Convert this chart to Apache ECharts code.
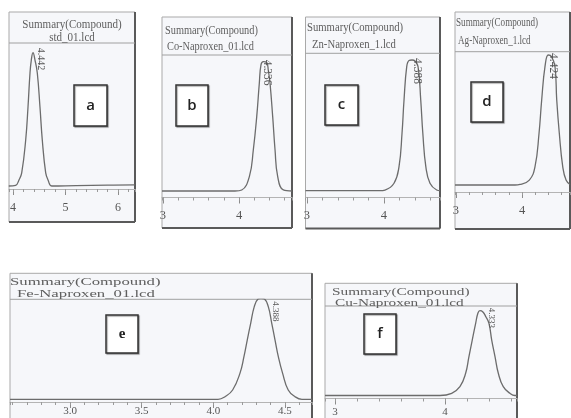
<!DOCTYPE html>
<html><head><meta charset="utf-8">
<script src="https://cdn.jsdelivr.net/npm/echarts@6/dist/echarts.min.js"></script>
<style>html,body{margin:0;padding:0;background:#fff}#c{width:571px;height:418px}</style>
</head><body><div id="c"></div>
<script>
// ---------------- DATA ----------------
const panelLetters = ['a', 'b', 'c', 'd', 'e', 'f'];
const headerTitle = 'Summary(Compound)';
const fileNames = ['std_01.lcd', 'Co-Naproxen_01.lcd', 'Zn-Naproxen_1.lcd', 'Ag-Naproxen_1.lcd', 'Fe-Naproxen_01.lcd', 'Cu-Naproxen_01.lcd'];
const peakLabels = ['4.442', '4.336', '4.388', '4.424', '4.388', '4.333'];

// retention time (min) and detector signal (normalised to apex = 100)
const timeA = [3.92, 4.05, 4.114, 4.166, 4.242, 4.286, 4.324, 4.349, 4.381, 4.419, 4.463, 4.514, 4.558, 4.623, 4.667, 4.743, 5.2, 5.8, 6.32];
const signalA = [0, 0.5, 4.5, 9.8, 34.5, 59.3, 84.8, 94.5, 100, 94.5, 84.8, 59.3, 34.5, 9.8, 4.5, 0, 0.3, 0.6, 0.8];

const timeB = [2.987, 3.947, 4.036, 4.136, 4.188, 4.233, 4.267, 4.289, 4.320, 4.364, 4.386, 4.408, 4.443, 4.474, 4.509, 4.583, 4.697];
const signalB = [0, 0, 0.8, 11.1, 31.7, 57.5, 83.3, 97.5, 100, 99.4, 93, 83.3, 57.5, 31.7, 11.1, 0.8, 0];

const timeC = [2.981, 3.948, 4.013, 4.130, 4.195, 4.234, 4.260, 4.295, 4.325, 4.364, 4.403, 4.442, 4.477, 4.504, 4.543, 4.597, 4.684, 4.727];
const signalC = [0, 0, 0.5, 5.7, 18.4, 43.9, 69.4, 94.9, 99.6, 100, 99.2, 94.9, 69.4, 43.9, 18.4, 5.7, 0.5, 0];

const timeD = [2.985, 3.894, 3.970, 4.111, 4.197, 4.258, 4.298, 4.348, 4.398, 4.447, 4.500, 4.526, 4.565, 4.617, 4.667, 4.727];
const signalD = [0, 0, 0.4, 3.8, 14.1, 39.8, 65.4, 91, 100, 98.8, 91, 65.4, 39.8, 14.1, 3.8, 0.4];

const timeE = [2.581, 4.033, 4.082, 4.135, 4.186, 4.214, 4.237, 4.261, 4.286, 4.312, 4.333, 4.357, 4.384, 4.408, 4.431, 4.454, 4.484, 4.523, 4.570, 4.619, 4.689];
const signalE = [0, 0, 2.6, 9.2, 25.7, 42.2, 58.7, 75.2, 91.7, 99.3, 100, 99.3, 91.7, 75.2, 58.7, 42.2, 25.7, 9.2, 2.6, 0, 0];

const timeF = [2.909, 3.955, 4.061, 4.136, 4.188, 4.218, 4.248, 4.279, 4.300, 4.318, 4.345, 4.373, 4.400, 4.425, 4.455, 4.485, 4.530, 4.591, 4.636, 4.655];
const signalF = [0, 0, 2.6, 10.4, 26.2, 45.8, 65.4, 85.1, 97.3, 100, 98.5, 92.6, 85.1, 65.4, 45.8, 26.2, 10.4, 2.6, 0, 0];

// axis ranges and tick steps (min)
const timeRanges = [[3.924, 6.324], [2.987, 4.697], [2.981, 4.727], [2.985, 4.727], [2.581, 4.689], [2.909, 4.655]];
const majorSteps = [1, 1, 1, 1, 0.5, 1];
const minorSteps = [0.2, 0.2, 0.2, 0.2, 0.1, 0.2];

const times = [timeA, timeB, timeC, timeD, timeE, timeF];
const signals = [signalA, signalB, signalC, signalD, signalE, signalF];

// ---------------- LAYOUT / STYLE ----------------
const layout = [
  {box: [9, 12, 126, 210], head: 43, axisY: 189, baseY: 186, apexY: 52.7,
   t1: [72, 25, 'center'], t2: [72, 38, 'center'], hf: 12, sx: 0.92, lb: [74, 85, 33, 41], po: [8, -5], pf: 10, lm: 13, lf: 12},
  {box: [162, 17, 130, 211], head: 55, axisY: 197.5, baseY: 191, apexY: 61.7,
   t1: [165, 31, 'left'], t2: [167, 47, 'left'], hf: 12, sx: 0.86, lb: [176, 85, 32, 41], po: [4, -2], pf: 11.5, lm: 12, lf: 12.5},
  {box: [305.5, 17, 134.5, 211.5], head: 53.3, axisY: 197.5, baseY: 190.7, apexY: 60,
   t1: [307, 28, 'left'], t2: [312, 45, 'left'], hf: 12, sx: 0.89, lb: [325, 85, 33, 40], po: [5, -2], pf: 11.5, lm: 12, lf: 12.5},
  {box: [455, 12, 115, 217], head: 51.7, axisY: 192, baseY: 185, apexY: 55,
   t1: [456, 23, 'left'], t2: [458, 41, 'left'], hf: 12, sx: 0.76, lb: [471, 82, 32, 40], po: [5, -2], pf: 11.5, lm: 12, lf: 12.5},
  {box: [10, 273.3, 302, 150], head: 299.3, axisY: 402, baseY: 399.3, apexY: 298.3,
   t1: [10, 282, 'left'], t2: [17, 294, 'left'], hf: 11, sx: 1.52, lb: [106, 315, 32, 38], po: [14, 3], pf: 9, lm: 4, lf: 11},
  {box: [325, 283.3, 192, 140], head: 306, axisY: 398.5, baseY: 395.5, apexY: 310.7,
   t1: [332, 292, 'left'], t2: [335, 303, 'left'], hf: 11, sx: 1.39, lb: [364, 314, 32, 40], po: [11, -3], pf: 9, lm: 8, lf: 11}
];

const serif = '"Liberation Serif", "Times New Roman", serif';
const textCol = '#5e5e5e';

const chart = echarts.init(document.getElementById('c'), null, {renderer: 'canvas', width: 571, height: 418});

const grids = [], xAxes = [], yAxes = [], series = [], elements = [];

layout.forEach((L, i) => {
  const [bx, by, bw, bh] = L.box;
  const gh = L.axisY - L.head;
  const peak = Math.max(...signals[i]);
  const k = (L.baseY - L.apexY) / peak;
  const yMin = -(L.axisY - L.baseY) / k;
  const yMax = peak + (L.apexY - L.head) / k;
  const major = majorSteps[i], minor = minorSteps[i];

  grids.push({left: bx, top: L.head, width: bw, height: gh, outerBoundsMode: 'none', containLabel: false});

  // major axis with labels
  xAxes.push({
    type: 'value', gridIndex: i, min: timeRanges[i][0], max: timeRanges[i][1], position: 'bottom',
    minInterval: major, maxInterval: major,
    axisLine: {show: true, onZero: false, lineStyle: {color: '#b4b4b4', width: 1}},
    axisTick: {show: true, length: 6, lineStyle: {color: '#8c8c8c', width: 1}},
    axisLabel: {
      show: true, margin: L.lm, fontFamily: serif, fontSize: L.lf, color: '#555',
      showMinLabel: false, showMaxLabel: false,
      formatter: v => {
        const r = v / major;
        if (Math.abs(r - Math.round(r)) > 1e-6) return '';
        return major < 1 ? v.toFixed(1) : String(Math.round(v));
      }
    },
    splitLine: {show: false}
  });
  // minor ticks axis (moved to the bottom edge)
  xAxes.push({
    type: 'value', gridIndex: i, min: timeRanges[i][0], max: timeRanges[i][1], position: 'top', offset: -gh,
    minInterval: minor, maxInterval: minor,
    axisLine: {show: false, onZero: false},
    axisTick: {show: true, inside: true, length: 3, lineStyle: {color: '#9a9a9a', width: 1}},
    axisLabel: {show: false},
    splitLine: {show: false}
  });
  yAxes.push({type: 'value', gridIndex: i, min: yMin, max: yMax, show: false, splitLine: {show: false}});

  series.push({
    type: 'line', xAxisIndex: 2 * i, yAxisIndex: i,
    data: times[i].map((t, j) => [t, signals[i][j]]),
    showSymbol: false, symbol: 'none', smooth: 0.45, clip: true, silent: true,
    lineStyle: {color: '#6c6c6c', width: 1.3}
  });

  // panel frame
  elements.push({id: 'bg' + i, type: 'rect', z: -20, silent: true,
    shape: {x: bx, y: by, width: bw, height: bh},
    style: {fill: '#f6f7fa', stroke: '#a9a9a9', lineWidth: 1}});
  elements.push({id: 'sr' + i, type: 'line', z: -19, silent: true,
    shape: {x1: bx + bw, y1: by, x2: bx + bw, y2: by + bh},
    style: {stroke: '#5a5a5a', lineWidth: 2}});
  elements.push({id: 'sb' + i, type: 'line', z: -19, silent: true,
    shape: {x1: bx, y1: by + bh, x2: bx + bw, y2: by + bh},
    style: {stroke: '#5a5a5a', lineWidth: 2}});
  elements.push({id: 'hl' + i, type: 'line', z: -18, silent: true,
    shape: {x1: bx, y1: L.head, x2: bx + bw, y2: L.head},
    style: {stroke: '#a0a0a0', lineWidth: 1}});
  // headers
  elements.push({id: 'h1' + i, type: 'text', z: 5, silent: true, x: L.t1[0], y: L.t1[1], scaleX: L.sx,
    style: {text: headerTitle, font: L.hf + 'px ' + serif, fill: textCol,
      align: L.t1[2], textAlign: L.t1[2], verticalAlign: 'middle', textVerticalAlign: 'middle'}});
  elements.push({id: 'h2' + i, type: 'text', z: 5, silent: true, x: L.t2[0], y: L.t2[1], scaleX: L.sx,
    style: {text: fileNames[i], font: L.hf + 'px ' + serif, fill: textCol,
      align: L.t2[2], textAlign: L.t2[2], verticalAlign: 'middle', textVerticalAlign: 'middle'}});
  // letter boxes
  const [lx, ly, lw, lh] = L.lb;
  elements.push({id: 'lb' + i, type: 'rect', z: 50, silent: true,
    shape: {x: lx, y: ly, width: lw, height: lh},
    style: {fill: '#ffffff', stroke: '#333333', lineWidth: 1.5, shadowColor: 'rgba(0,0,0,0.35)', shadowOffsetX: 1, shadowOffsetY: 1, shadowBlur: 1}});
  const letterFont = i === 4 ? 'bold 15px ' + serif : '600 15px "Open Sans", "Liberation Sans", sans-serif';
  elements.push({id: 'lt' + i, type: 'text', z: 51, silent: true, x: lx + lw / 2, y: ly + lh / 2,
    style: {text: panelLetters[i], font: letterFont, fill: '#222',
      align: 'center', textAlign: 'center', verticalAlign: 'middle', textVerticalAlign: 'middle'}});
});

chart.setOption({
  animation: false,
  backgroundColor: '#ffffff',
  grid: grids, xAxis: xAxes, yAxis: yAxes, series: series,
  graphic: {elements: elements}
});

// rotated peak labels anchored to each apex via the axes
const peakEls = [];
layout.forEach((L, i) => {
  const s = signals[i];
  const k = s.indexOf(Math.max(...s));
  const p = chart.convertToPixel({xAxisIndex: 2 * i, yAxisIndex: i}, [times[i][k], s[k]]);
  peakEls.push({id: 'pk' + i, type: 'text', z: 20, silent: true,
    x: p[0] + L.po[0], y: p[1] + L.po[1], rotation: -Math.PI / 2,
    style: {text: peakLabels[i], font: L.pf + 'px ' + serif, fill: '#555',
      align: 'left', textAlign: 'left', verticalAlign: 'middle', textVerticalAlign: 'middle'}});
});
chart.setOption({graphic: {elements: peakEls}});
</script>
</body></html>
